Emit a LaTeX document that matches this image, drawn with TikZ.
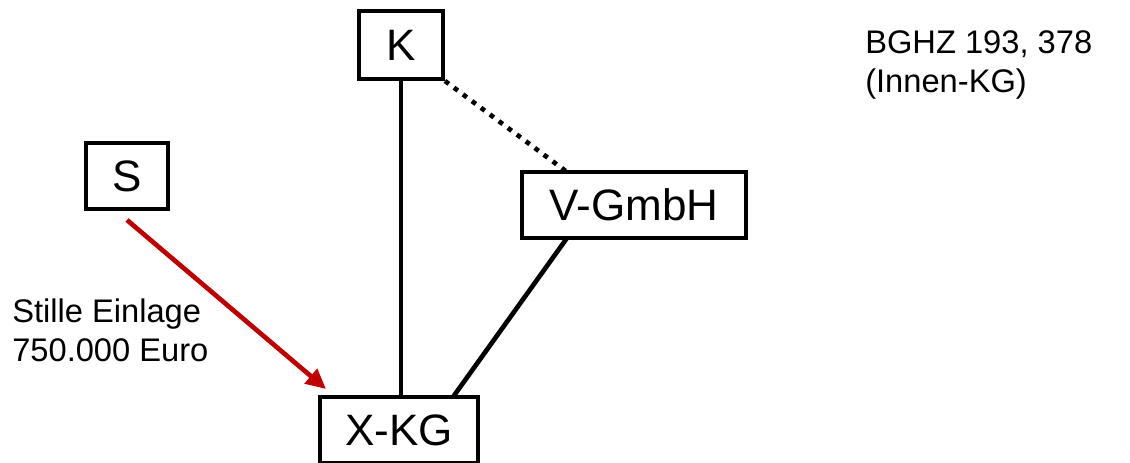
\documentclass[tikz,border=0pt]{standalone}
\usepackage{fontspec}
\setmainfont{Liberation Sans}
\usetikzlibrary{arrows.meta}

\definecolor{einlagered}{RGB}{192,0,0}

\begin{document}
\begin{tikzpicture}[x=0.75pt, y=-0.75pt,
    party/.style={draw, line width=3pt, rectangle, inner sep=0pt,
        font=\fontsize{33}{38}\selectfont},
    link/.style={line width=3.5pt},
    hint/.style={inner sep=0pt, align=left, anchor=west,
        font=\fontsize{24.5}{29.5}\selectfont}
]

% Picture frame
\useasboundingbox (0,0) rectangle (1130,462);

% Parties
\node[party, minimum width=63pt, minimum height=51pt] (K) at (401,45) {K};
\node[party, minimum width=61pt, minimum height=50pt] (S) at (127,176) {S};
\node[party, minimum width=168pt, minimum height=50pt] (V) at (634,205) {V-GmbH};
\node[party, minimum width=118pt, minimum height=50pt] (X) at (399,430) {X-KG};

% Free ends of the slanted connectors
\coordinate (vn) at (567,172); % top edge of V-GmbH
\coordinate (vs) at (567,238); % bottom edge of V-GmbH
\coordinate (xn) at (453,397); % top edge of X-KG
\coordinate (sa) at (127,220); % just below S
\coordinate (xa) at (326,389); % arrow tip near X-KG

% Connectors
\draw[link] (K.south) -- (K.south |- X.north);
\draw[link, line cap=butt, dash pattern=on 3.6pt off 4.8pt] (K.south east) -- (vn);
\draw[link] (vs) -- (xn);
\draw[link, einlagered, -{Triangle[length=15pt, width=14pt]}] (sa) -- (xa);

% Texts
\node[hint] (einlage) at (12,330) {Stille Einlage\\750.000 Euro};
\node[hint] (bghz) at (865,65) {BGHZ 193, 378\\(Innen-KG)};

\end{tikzpicture}
\end{document}
